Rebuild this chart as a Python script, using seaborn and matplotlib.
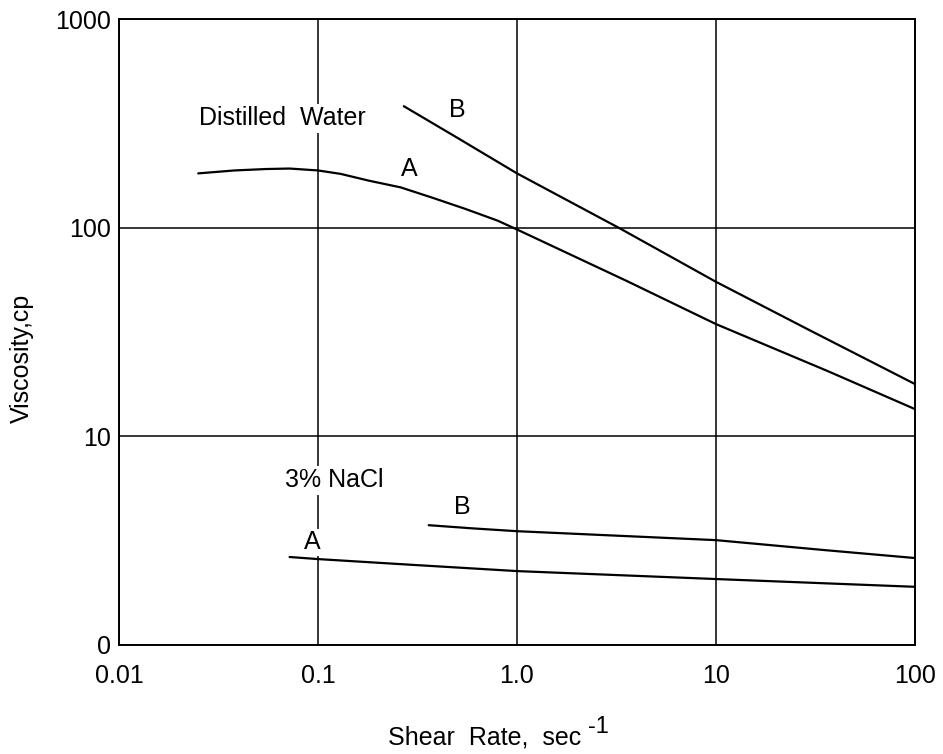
import matplotlib
matplotlib.use("Agg")
import matplotlib.pyplot as plt
import seaborn as sns
import pandas as pd

# curve values (shear rate in 1/sec, viscosity in cp)
dw_a_x = [0.025, 0.038, 0.055, 0.072, 0.1, 0.13, 0.18, 0.26, 0.377, 0.55, 0.8, 1.0,
          3.55, 10, 36.6, 100]
dw_a_y = [182, 188, 191, 192, 188, 181, 168, 156, 139, 123, 108, 98,
          55.6, 34.5, 20.5, 13.5]
dw_b_x = [0.27, 0.5, 1.0, 3.3, 10, 30, 100]
dw_b_y = [382, 270, 182, 99, 55, 32, 17.8]
na_a_x = [0.072, 0.1, 0.3, 1.0, 10, 100]
na_a_y = [2.64, 2.58, 2.42, 2.26, 2.07, 1.90]
na_b_x = [0.36, 0.6, 1.0, 10, 35, 100]
na_b_y = [3.75, 3.62, 3.51, 3.18, 2.85, 2.61]

x_ticks = [0.01, 0.1, 1, 10, 100]
x_labels = ["0.01", "0.1", "1.0", "10", "100"]
y_ticks = [1, 10, 100, 1000]
y_labels = ["0", "10", "100", "1000"]

series = {
    "Distilled A": (dw_a_x, dw_a_y),
    "Distilled B": (dw_b_x, dw_b_y),
    "NaCl A": (na_a_x, na_a_y),
    "NaCl B": (na_b_x, na_b_y),
}
df = pd.concat(
    [pd.DataFrame({"rate": xs, "visc": ys, "curve": name}) for name, (xs, ys) in series.items()],
    ignore_index=True,
)

sns.set_style("white")
plt.rcParams["font.family"] = ["Liberation Sans", "DejaVu Sans"]
plt.rcParams["text.color"] = "black"
plt.rcParams["axes.labelcolor"] = "black"
plt.rcParams["xtick.color"] = "black"
plt.rcParams["ytick.color"] = "black"

fig = plt.figure(figsize=(9.43, 7.54), dpi=100)
ax = fig.add_axes([0.1262, 0.1446, 0.8441, 0.8302])

for name, sub in df.groupby("curve"):
    sns.lineplot(data=sub, x="rate", y="visc", ax=ax, color="black",
                 linewidth=1.6, estimator=None, sort=False, zorder=3)

ax.set_xscale("log")
ax.set_yscale("log")
ax.set_xlim(0.01, 100)
ax.set_ylim(1, 1000)
ax.set_xticks(x_ticks)
ax.set_xticklabels(x_labels)
ax.set_yticks(y_ticks)
ax.set_yticklabels(y_labels)
ax.minorticks_off()
ax.tick_params(axis="x", length=0, pad=14, labelsize=18)
ax.tick_params(axis="y", length=0, pad=6, labelsize=18)

ax.grid(True, which="major", color="black", linewidth=1.1, zorder=1)
for sp in ax.spines.values():
    sp.set_color("black")
    sp.set_linewidth(1.4)

ax.set_xlabel("")
ax.set_ylabel("")
# axis titles placed by hand (pixel positions of the original)
xl = fig.text(388 / 943, 1 - 745 / 754, "Shear  Rate,  sec", fontsize=18,
              ha="left", va="baseline")
fig.canvas.draw()
bb = xl.get_window_extent()
fig.text((bb.x1 + 7) / 943, 1 - 733 / 754, "-1", fontsize=17, ha="left", va="baseline")
fig.text(22 / 943, 1 - 358 / 754, "Viscosity,cp", fontsize=18, rotation=90,
         ha="center", va="center")

box = dict(facecolor="white", edgecolor="none", pad=2)
ax.text(0.0664, 334, "Distilled  Water", fontsize=18, ha="center", va="center", bbox=box, zorder=2)
ax.text(0.5, 365, "B", fontsize=18, ha="center", va="center", zorder=4)
ax.text(0.288, 192, "A", fontsize=18, ha="center", va="center", zorder=4)
ax.text(0.12, 6.15, "3% NaCl", fontsize=18, ha="center", va="center", bbox=box, zorder=2)
ax.text(0.53, 4.57, "B", fontsize=18, ha="center", va="center", zorder=4)
ax.text(0.094, 3.11, "A", fontsize=18, ha="center", va="center",
        bbox=dict(facecolor="white", edgecolor="none", pad=1), zorder=2)

fig.savefig("out.png", dpi=100)
